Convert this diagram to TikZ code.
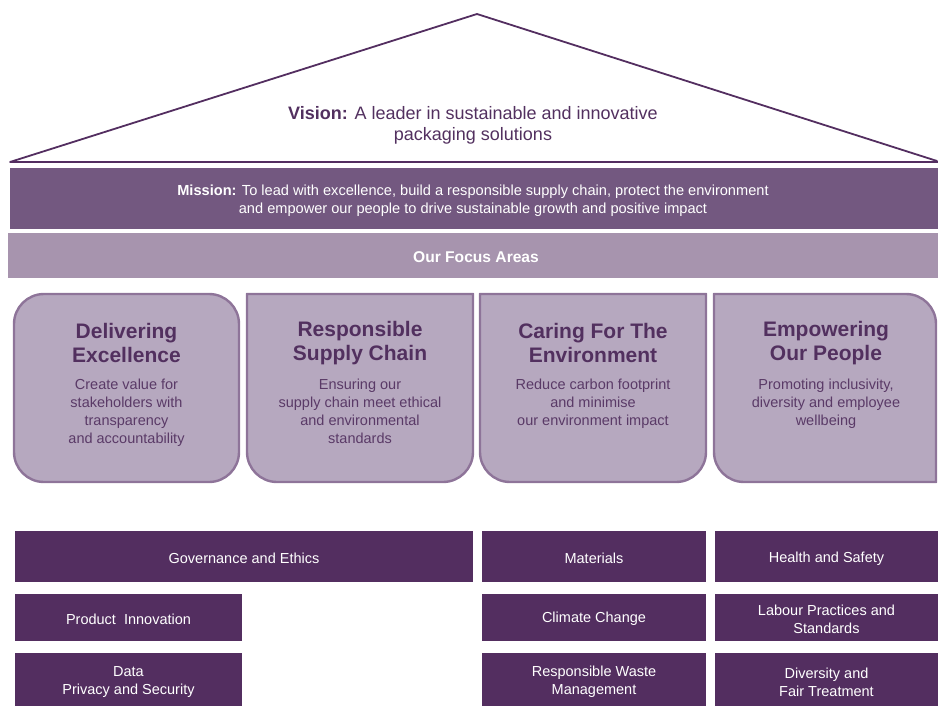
\documentclass[tikz,border=0pt]{standalone}
\usepackage{fontspec}
\setmainfont{Liberation Sans}
\definecolor{deepplum}{HTML}{532E60}
\definecolor{missionplum}{HTML}{735880}
\definecolor{bandplum}{HTML}{A794AE}
\definecolor{boxfill}{HTML}{B6A8BF}
\definecolor{boxedge}{HTML}{8E7499}
\definecolor{titleplum}{HTML}{52305F}
\definecolor{descplum}{HTML}{5A3A67}
% x1, yTop, x2, yBottom (pixel rows, downwards), radii TL, TR, BR, BL
\newcommand\focusshape[8]{%
  \begin{scope}[y=1pt]
  \draw[fbox] ({#1+#5},-#2) -- ({#3-#6},-#2)
     arc[start angle=90,end angle=0,radius=#6pt] -- (#3,{-#4+#7})
     arc[start angle=0,end angle=-90,radius=#7pt] -- ({#1+#8},-#4)
     arc[start angle=-90,end angle=-180,radius=#8pt] -- (#1,{-#2-#5})
     arc[start angle=180,end angle=90,radius=#5pt] -- cycle;
  \end{scope}}
\begin{document}
\begin{tikzpicture}[x=1pt,y=-1pt,
  roofline/.style={draw=deepplum,line width=1.8pt,line join=round,line cap=round},
  fbox/.style={fill=boxfill,draw=boxedge,line width=2.4pt},
  ftitle/.style={text=titleplum,align=center,inner sep=0pt,font=\fontsize{21}{24}\selectfont\bfseries},
  fdesc/.style={text=descplum,align=center,inner sep=0pt,anchor=north,font=\fontsize{14.5}{18}\selectfont},
  pillarbox/.style={fill=deepplum,inner sep=0pt},
  ptext/.style={text=white,align=center,inner sep=0pt,font=\fontsize{14.5}{18}\selectfont},
]
\useasboundingbox (0,0) rectangle (938,709);
% roof
\coordinate (rl) at (10,162);
\coordinate (apex) at (477,14);
\coordinate (rr) at (937,161);
\coordinate (br) at (938,162);
\draw[roofline] (rl) -- (apex) -- (rr);
\draw[roofline,line width=2.6pt,line cap=butt] (rl) -- (br);
\node[text=titleplum,align=center,inner sep=0pt,font=\fontsize{18}{21}\selectfont] (vision) at (473,125.5)
  {\textbf{Vision:} A leader in sustainable and innovative\\packaging solutions};
% mission band
\node[fill=missionplum,minimum width=928pt,minimum height=61pt,inner sep=0pt,anchor=north west] (missionband) at (10,168) {};
\node[text=white,align=center,inner sep=0pt,font=\fontsize{14.6}{18}\selectfont] (mission) at (473,201)
  {\textbf{Mission:} To lead with excellence, build a responsible supply chain, protect the environment\\and empower our people to drive sustainable growth and positive impact};
% focus band
\node[fill=bandplum,minimum width=930pt,minimum height=45pt,inner sep=0pt,anchor=north west] (focusband) at (8,233) {};
\node[text=white,inner sep=0pt,font=\fontsize{15.6}{18}\selectfont\bfseries] (focus) at (476,257) {Our Focus Areas};
% focus boxes
\focusshape{14}{294}{239}{482}{30}{30}{30}{30}
\focusshape{247}{294}{473}{482}{0.01}{0.01}{30}{30}
\focusshape{480}{294}{706}{482}{0.01}{0.01}{30}{30}
\focusshape{714}{294}{936}{482}{0.01}{30}{0.01}{30}
\node[ftitle] (t1) at (126.5,343) {Delivering\\Excellence};
\node[ftitle] (t2) at (360,343) {Responsible\\Supply Chain};
\node[ftitle] (t3) at (593,343) {Caring For The\\Environment};
\node[ftitle] (t4) at (826,343) {Empowering\\Our People};
\node[fdesc] (d1) at (126.5,379) {Create value for\\stakeholders with\\transparency\\and accountability};
\node[fdesc] (d2) at (360,379) {Ensuring our\\supply chain meet ethical\\and environmental\\standards};
\node[fdesc] (d3) at (593,379) {Reduce carbon footprint\\and minimise\\our environment impact};
\node[fdesc] (d4) at (826,379) {Promoting inclusivity,\\diversity and employee\\wellbeing};
% pillars
\node[pillarbox,minimum width=458pt,minimum height=51pt] (gov) at (244,556.5) {};
\node[pillarbox,minimum width=227pt,minimum height=47pt] (prod) at (128.5,617.5) {};
\node[pillarbox,minimum width=227pt,minimum height=53pt] (data) at (128.5,679.5) {};
\node[pillarbox,minimum width=224pt,minimum height=51pt] (mat) at (594,556.5) {};
\node[pillarbox,minimum width=224pt,minimum height=47pt] (clim) at (594,617.5) {};
\node[pillarbox,minimum width=224pt,minimum height=53pt] (waste) at (594,679.5) {};
\node[pillarbox,minimum width=223pt,minimum height=51pt] (hs) at (826.5,556.5) {};
\node[pillarbox,minimum width=223pt,minimum height=47pt] (lab) at (826.5,617.5) {};
\node[pillarbox,minimum width=223pt,minimum height=53pt] (div) at (826.5,679.5) {};
\node[ptext] (govt) at ([yshift=-2pt]gov.center) {Governance and Ethics};
\node[ptext] (prodt) at ([yshift=-1.5pt]prod.center) {Product\ \ Innovation};
\node[ptext] (datat) at ([yshift=-2.5pt]data.center) {Data\\Privacy and Security};
\node[ptext] (matt) at ([yshift=-2pt]mat.center) {Materials};
\node[ptext] (climt) at ([yshift=-1.5pt]clim.center) {Climate Change};
\node[ptext] (wastet) at ([yshift=-2.5pt]waste.center) {Responsible Waste\\Management};
\node[ptext] (hst) at ([yshift=-2pt]hs.center) {Health and Safety};
\node[ptext] (labt) at ([yshift=-2pt]lab.center) {Labour Practices and\\Standards};
\node[ptext] (divt) at ([yshift=-2.5pt]div.center) {Diversity and\\Fair Treatment};
\end{tikzpicture}
\end{document}
